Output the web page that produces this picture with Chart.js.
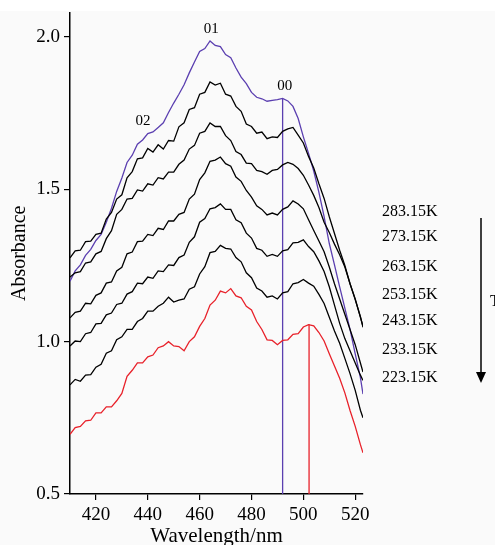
<!DOCTYPE html>
<html>
<head>
<meta charset="utf-8">
<script src="https://cdn.jsdelivr.net/npm/chart.js@4.4.1/dist/chart.umd.min.js"></script>
<style>
  html, body { margin: 0; padding: 0; }
  body { width: 495px; height: 545px; overflow: hidden; background: linear-gradient(#ffffff 0, #ffffff 11px, #fafafa 11px); }
  canvas { display: block; }
</style>
</head>
<body>
<canvas id="absChart" width="495" height="545"></canvas>
<script>
// Wavelength grid (nm)
const wavelength = [410,412,414,416,418,420,422,424,426,428,430,432,434,436,438,440,442,444,446,448,
                    450,452,454,456,458,460,462,464,466,468,470,472,474,476,478,480,482,484,486,488,
                    490,492,494,496,498,500,502,504,506,508,510,512,514,516,518,520,522,523];

// Absorbance
const abs28315 = [1.198,1.232,1.252,1.283,1.303,1.332,1.352,1.392,1.438,1.493,1.537,1.588,1.612,1.648,1.662,1.683,1.688,1.703,1.718,1.752,
                  1.783,1.812,1.843,1.882,1.918,1.952,1.962,1.987,1.972,1.968,1.942,1.932,1.898,1.868,1.847,1.818,1.802,1.797,1.789,1.792,
                  1.794,1.798,1.790,1.772,1.732,1.672,1.618,1.560,1.490,1.410,1.322,1.252,1.180,1.110,1.040,0.960,0.882,0.828];
const abs27315 = [1.275,1.298,1.300,1.328,1.330,1.352,1.356,1.402,1.424,1.468,1.482,1.538,1.558,1.600,1.603,1.634,1.622,1.646,1.632,1.660,
                  1.658,1.705,1.718,1.762,1.768,1.812,1.818,1.852,1.842,1.848,1.812,1.806,1.772,1.756,1.714,1.706,1.684,1.688,1.666,1.672,
                  1.670,1.690,1.698,1.703,1.678,1.652,1.608,1.570,1.518,1.470,1.410,1.355,1.300,1.250,1.190,1.140,1.080,1.050];
const abs26315 = [1.212,1.226,1.230,1.258,1.262,1.288,1.296,1.338,1.364,1.418,1.434,1.468,1.470,1.498,1.494,1.518,1.514,1.538,1.534,1.556,
                  1.556,1.582,1.596,1.632,1.644,1.684,1.690,1.718,1.706,1.706,1.676,1.660,1.624,1.614,1.586,1.584,1.562,1.558,1.549,1.562,
                  1.565,1.580,1.588,1.582,1.568,1.546,1.514,1.480,1.440,1.392,1.358,1.320,1.285,1.245,1.190,1.138,1.082,1.047];
const abs25315 = [1.078,1.096,1.100,1.126,1.124,1.152,1.160,1.192,1.196,1.232,1.244,1.288,1.294,1.328,1.330,1.352,1.348,1.372,1.368,1.396,
                  1.396,1.418,1.424,1.468,1.484,1.532,1.554,1.592,1.596,1.606,1.584,1.576,1.540,1.526,1.496,1.474,1.446,1.434,1.416,1.422,
                  1.416,1.434,1.442,1.462,1.452,1.436,1.400,1.365,1.330,1.295,1.245,1.190,1.140,1.090,1.040,0.990,0.930,0.900];
const abs24315 = [0.986,1.002,1.000,1.026,1.030,1.058,1.060,1.088,1.094,1.122,1.126,1.156,1.164,1.192,1.190,1.212,1.208,1.232,1.230,1.252,
                  1.250,1.276,1.284,1.326,1.344,1.392,1.404,1.436,1.440,1.452,1.434,1.434,1.400,1.390,1.356,1.340,1.306,1.300,1.280,1.286,
                  1.280,1.298,1.302,1.324,1.326,1.334,1.312,1.295,1.265,1.230,1.180,1.120,1.060,1.010,0.970,0.930,0.890,0.873];
const abs23315 = [0.858,0.876,0.870,0.890,0.892,0.916,0.926,0.962,0.970,1.006,1.016,1.040,1.040,1.066,1.076,1.100,1.100,1.116,1.126,1.146,
                  1.130,1.136,1.140,1.172,1.180,1.222,1.246,1.292,1.296,1.316,1.306,1.304,1.276,1.262,1.226,1.210,1.176,1.166,1.146,1.150,
                  1.140,1.160,1.164,1.190,1.194,1.204,1.192,1.182,1.155,1.125,1.080,1.035,0.995,0.945,0.895,0.840,0.775,0.750];
const abs22315 = [0.696,0.718,0.722,0.740,0.742,0.766,0.766,0.786,0.786,0.806,0.830,0.886,0.906,0.930,0.930,0.950,0.956,0.980,0.986,1.000,
                  0.986,0.984,0.970,1.000,1.016,1.050,1.076,1.120,1.136,1.166,1.160,1.174,1.150,1.144,1.116,1.104,1.066,1.040,1.006,1.004,
                  0.990,1.004,1.006,1.024,1.026,1.048,1.056,1.052,1.030,1.002,0.960,0.920,0.880,0.832,0.774,0.722,0.662,0.635];

// Vertical marker lines (00 band at 283.15K and 223.15K)
const markerWl  = [492, 502.2];
const markerTop = [1.797, 1.057];

// Axis ticks
const xTicks = [420, 440, 460, 480, 500, 520];
const yTicks = [0.5, 1.0, 1.5, 2.0];

// Labels
const tempLabels = ['283.15K', '273.15K', '263.15K', '253.15K', '243.15K', '233.15K', '223.15K'];
const peakLabels = ['02', '01', '00'];

const PURPLE = '#5b3fb0';
const RED = '#e8212a';
const FONT = "'Liberation Serif', 'Times New Roman', serif";

function toPoints(ys) {
    return wavelength.map((w, i) => ({ x: w, y: ys[i] }));
}

function curve(ys, color) {
    return {
        data: toPoints(ys),
        borderColor: color,
        borderWidth: 1.3,
        pointRadius: 0,
        tension: 0,
        fill: false
    };
}

function marker(i, color) {
    return {
        data: [{ x: markerWl[i], y: 0.5 }, { x: markerWl[i], y: markerTop[i] }],
        borderColor: color,
        borderWidth: 1.3,
        pointRadius: 0,
        fill: false
    };
}

// --- annotation plugin: peak labels, temperature list, arrow ---
const annotations = {
    id: 'annotations',
    afterDraw(chart) {
        const ctx = chart.ctx;
        const xs = chart.scales.x;
        const ys = chart.scales.y;
        ctx.save();
        ctx.fillStyle = '#000';
        ctx.textBaseline = 'middle';

        // vibronic band labels, placed in data coords
        const peakWl = [438.2, 464.5, 492.8];
        const peakAbs = [1.725, 2.026, 1.840];
        ctx.font = '15px ' + FONT;
        ctx.textAlign = 'center';
        peakLabels.forEach((t, i) => {
            ctx.fillText(t, xs.getPixelForValue(peakWl[i]), ys.getPixelForValue(peakAbs[i]));
        });

        // temperature labels on the right
        const tempY = [212, 237, 267, 295, 321, 350, 378];
        ctx.font = '16px ' + FONT;
        ctx.textAlign = 'left';
        tempLabels.forEach((t, i) => ctx.fillText(t, 382, tempY[i]));

        // arrow (T decreasing)
        ctx.strokeStyle = '#000';
        ctx.lineWidth = 1.5;
        ctx.beginPath();
        ctx.moveTo(481, 218);
        ctx.lineTo(481, 374);
        ctx.stroke();
        ctx.beginPath();
        ctx.moveTo(476, 372);
        ctx.lineTo(486, 372);
        ctx.lineTo(481, 383);
        ctx.closePath();
        ctx.fill();
        ctx.fillText('T', 490, 302);
        ctx.restore();
    }
};

const ctx = document.getElementById('absChart').getContext('2d');
new Chart(ctx, {
    type: 'line',
    data: {
        datasets: [
            curve(abs27315, '#000'),
            curve(abs26315, '#000'),
            curve(abs25315, '#000'),
            curve(abs24315, '#000'),
            curve(abs23315, '#000'),
            curve(abs28315, PURPLE),
            curve(abs22315, RED),
            marker(0, PURPLE),
            marker(1, RED)
        ]
    },
    options: {
        responsive: false,
        animation: false,
        devicePixelRatio: 1,
        layout: { padding: { left: 0, right: 132, top: 12, bottom: 0 } },
        plugins: {
            legend: { display: false },
            tooltip: { enabled: false }
        },
        scales: {
            x: {
                type: 'linear',
                min: 410,
                max: 523,
                afterFit: s => { s.height = 51; },
                afterBuildTicks: s => { s.ticks = xTicks.map(v => ({ value: v })); },
                ticks: { color: '#000', font: { family: FONT, size: 19, lineHeight: 0.9 }, padding: 6, maxRotation: 0 },
                grid: { drawOnChartArea: false, drawTicks: true, tickLength: 6, color: '#000', lineWidth: 1.2 },
                border: { color: '#000', width: 1.5 },
                title: { display: true, text: 'Wavelength/nm', color: '#000',
                         font: { family: FONT, size: 21, lineHeight: 1 }, padding: { top: 0, bottom: -2 } }
            },
            y: {
                type: 'linear',
                min: 0.5,
                max: 2.08,
                afterFit: s => { s.width = 70; },
                afterBuildTicks: s => { s.ticks = yTicks.map(v => ({ value: v })); },
                ticks: { color: '#000', font: { family: FONT, size: 19, lineHeight: 0.9 }, padding: 4,
                         callback: v => v.toFixed(1) },
                grid: { drawOnChartArea: false, drawTicks: true, tickLength: 6, color: '#000', lineWidth: 1.2 },
                border: { color: '#000', width: 1.5 },
                title: { display: true, text: 'Absorbance', color: '#000',
                         font: { family: FONT, size: 20, lineHeight: 1 }, padding: { top: 10, bottom: 0 } }
            }
        }
    },
    plugins: [annotations]
});
</script>
</body>
</html>
